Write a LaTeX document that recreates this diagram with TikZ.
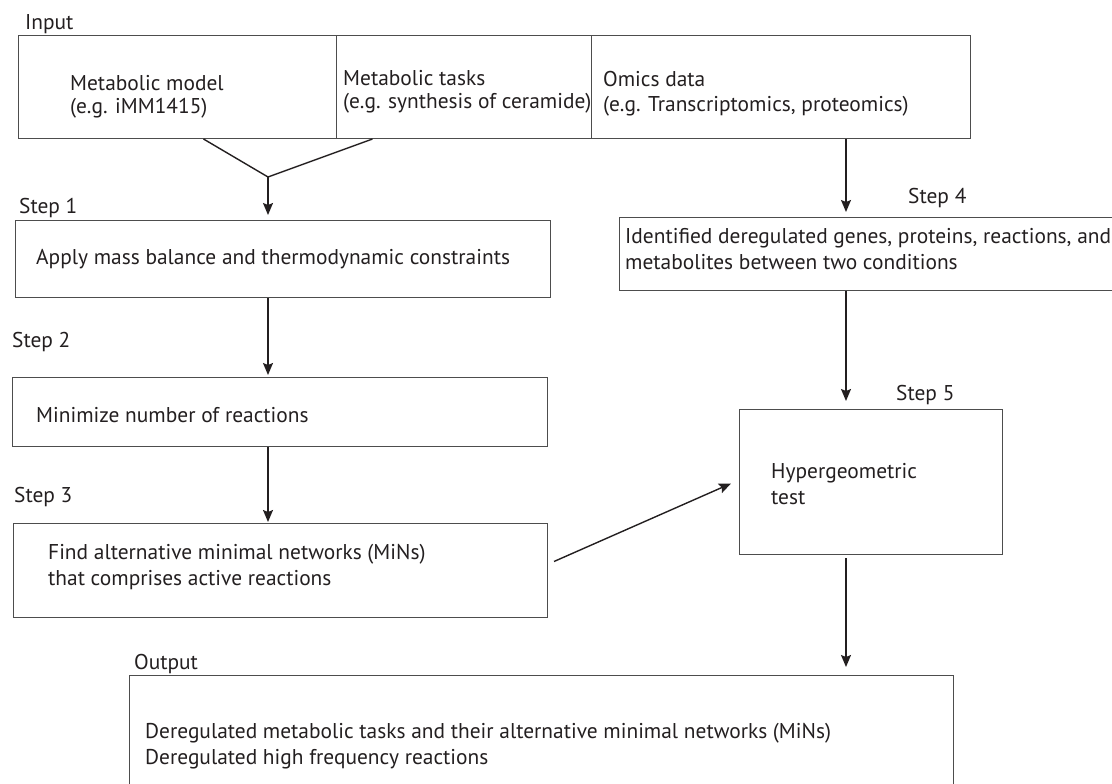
\documentclass[tikz,border=0pt]{standalone}
\usepackage{fontspec}
\setmainfont{PT Sans}
\usepackage{tikz}
\usetikzlibrary{arrows.meta, positioning, calc}
\definecolor{FlowInk}{HTML}{231F20}
\definecolor{BoxLine}{HTML}{4D4D4D}

\begin{document}
\begin{tikzpicture}[
    x=1pt, y=1pt,
    font=\fontsize{21.4}{26}\selectfont,
    text=FlowInk,
    box/.style={draw=BoxLine, line width=1pt, anchor=north west, inner sep=0pt},
    txt/.style={align=left, inner sep=0pt, anchor=west},
    lbl/.style={anchor=base west, inner sep=0pt},
    link/.style={draw=FlowInk, line width=1.4pt},
    arr/.style={link, -{Stealth[length=12pt, width=10pt, inset=2pt]}},
  ]
  \useasboundingbox (0,0) rectangle (1112,-784);

  % ---- Input ----
  \node[lbl] (lin) at (25,-30) {Input};
  \node[box, minimum width=318pt, minimum height=103pt] (mdl) at (18,-35) {};
  \node[box, minimum width=255pt, minimum height=103pt] (tsk) at (336,-35) {};
  \node[box, minimum width=379pt, minimum height=103pt] (omc) at (591,-35) {};
  \node[txt, right=52pt of mdl.west, yshift=-9.5pt,
    font=\fontsize{21.4}{23}\selectfont] (tmdl)
    {Metabolic model\\(e.g. iMM1415)};
  \node[txt, right=7pt of tsk.west, yshift=-5pt,
    font=\fontsize{21.4}{23}\selectfont] (ttsk)
    {Metabolic tasks\\(e.g. synthesis of ceramide)};
  \node[txt, right=12pt of omc.west, yshift=-6.5pt,
    font=\fontsize{21.4}{25}\selectfont] (tomc)
    {Omics data\\(e.g. Transcriptomics, proteomics)};

  % ---- Steps 1-3 ----
  \node[lbl] (l1) at (19,-213) {Step 1};
  \node[box, minimum width=535pt, minimum height=77pt] (s1) at (15,-220) {};
  \node[txt, right=21pt of s1.west] (t1)
    {Apply mass balance and thermodynamic constraints};

  \node[lbl] (l2) at (12,-347) {Step 2};
  \node[box, minimum width=535pt, minimum height=69pt] (s2) at (12,-377) {};
  \node[txt, right=24pt of s2.west, yshift=-3pt] (t2)
    {Minimize number of reactions};

  \node[lbl] (l3) at (14,-502) {Step 3};
  \node[box, minimum width=534pt, minimum height=94pt] (s3) at (13,-523) {};
  \node[txt, right=35pt of s3.west, yshift=3pt] (t3)
    {Find alternative minimal networks (MiNs)\\that comprises active reactions};

  % ---- Steps 4-5 ----
  \node[lbl] (l4) at (908,-203) {Step 4};
  \node[box, minimum width=510pt, minimum height=73pt] (s4) at (619,-217) {};
  \node[txt, right=6pt of s4.west, yshift=5pt] (t4)
    {Identified deregulated genes, proteins, reactions, and\\metabolites between two conditions};

  \node[lbl] (l5) at (896,-400) {Step 5};
  \node[box, minimum width=263pt, minimum height=145pt] (s5) at (739,-409) {};
  \node[txt, right=32pt of s5.west, yshift=-2pt] (t5)
    {Hypergeometric\\test};

  % ---- Output ----
  \node[lbl] (lout) at (134,-669) {Output};
  \node[box, minimum width=824pt, minimum height=130pt] (out) at (129,-675) {};
  \node[txt, right=16pt of out.west, yshift=-6pt] (tout)
    {Deregulated metabolic tasks and their alternative minimal networks (MiNs)\\Deregulated high frequency reactions};

  % ---- connectors ----
  \coordinate (jn) at (268,-177);
  \coordinate (sp) at (846,0);
  \draw[link] ([xshift=26pt]mdl.south) -- (jn);
  \draw[link] ([xshift=-91.5pt]tsk.south) -- (jn);
  \draw[arr, shorten >=5pt] (jn) -- (jn |- s1.north);
  \draw[arr, shorten >=2pt] (s1.south -| jn) -- (s2.north -| jn);
  \draw[arr, shorten >=1pt] (s2.south -| jn) -- (s3.north -| jn);
  \draw[arr] ([shift={(6pt,9pt)}]s3.east) -- ([shift={(-8pt,-1.5pt)}]s5.west);
  \draw[arr, shorten >=5pt] (omc.south -| sp) -- (s4.north -| sp);
  \draw[arr, shorten >=8pt] (s4.south -| sp) -- (s5.north -| sp);
  \draw[arr, shorten <=3pt, shorten >=8pt] (s5.south -| sp) -- (out.north -| sp);
\end{tikzpicture}
\end{document}
